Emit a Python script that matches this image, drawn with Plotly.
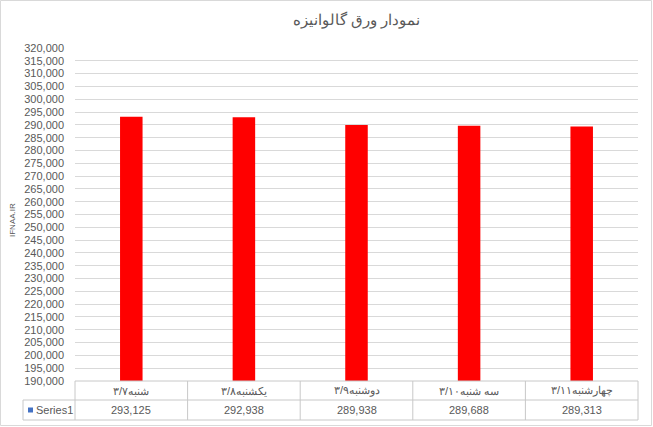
import plotly.graph_objects as go

categories = ["شنبه۳/۷", "یکشنبه۳/۸", "دوشنبه۳/۹", "سه شنبه۳/۱۰", "چهارشنبه۳/۱۱"]
values = [293125, 292938, 289938, 289688, 289313]
series_name = "Series1"
title_text = "نمودار ورق گالوانیزه"
y_title = "IFNAA.IR"

W, H = 653, 427
L, R, T, B = 75, 15, 48, 46
pw, ph = W - L - R, H - T - B

def px(x):
    return (x - L) / pw

def py(y):
    return (H - B - y) / ph

font = "Liberation Sans, Arial, sans-serif"
grey = "#595959"
line_c = "#c8c8c8"

fig = go.Figure(go.Bar(x=list(range(len(categories))), y=values, width=0.2,
                       marker=dict(color="#FF0000", line=dict(width=0)),
                       name=series_name, showlegend=False))

shapes = []
# outer border
shapes.append(dict(type="rect", xref="paper", yref="paper", x0=px(0.5), x1=px(W - 1.5),
                   y0=py(0.5), y1=py(H - 1.5), line=dict(color="#d9d9d9", width=1)))
# table
y_top, y_mid, y_bot = 381, 400, 420
x_left = 23
n = len(categories)
shapes.append(dict(type="line", xref="paper", yref="paper", x0=0, x1=1, y0=py(y_top), y1=py(y_top), line=dict(color=line_c, width=1)))
for yy in (y_mid, y_bot):
    shapes.append(dict(type="line", xref="paper", yref="paper", x0=px(x_left), x1=1, y0=py(yy), y1=py(yy), line=dict(color=line_c, width=1)))
shapes.append(dict(type="line", xref="paper", yref="paper", x0=px(x_left), x1=px(x_left), y0=py(y_mid), y1=py(y_bot), line=dict(color=line_c, width=1)))
for k in range(n + 1):
    xx = k / n
    shapes.append(dict(type="line", xref="paper", yref="paper", x0=xx, x1=xx, y0=py(y_top), y1=py(y_bot), line=dict(color=line_c, width=1)))
# legend key
shapes.append(dict(type="rect", xref="paper", yref="paper", x0=px(28), x1=px(33), y0=py(407.5), y1=py(412.5),
                   fillcolor="#4472C4", line=dict(width=0)))

annotations = []
for i, (c, v) in enumerate(zip(categories, values)):
    annotations.append(dict(x=i, xref="x", y=py((y_top + y_mid) / 2), yref="paper", text=c, showarrow=False,
                            font=dict(size=11, color=grey, family=font), xanchor="center", yanchor="middle"))
    annotations.append(dict(x=i, xref="x", y=py((y_mid + y_bot) / 2), yref="paper", text=f"{v:,}", showarrow=False,
                            font=dict(size=11, color=grey, family=font), xanchor="center", yanchor="middle"))
annotations.append(dict(x=px(34), xref="paper", y=py((y_mid + y_bot) / 2), yref="paper", text=series_name, showarrow=False,
                        font=dict(size=11, color=grey, family=font), xanchor="left", yanchor="middle"))
annotations.append(dict(x=px(12), xref="paper", y=py(220), yref="paper", text=y_title, showarrow=False, textangle=-90,
                        font=dict(size=8, color=grey, family=font), xanchor="center", yanchor="middle"))

fig.update_layout(
    width=W, height=H,
    margin=dict(l=L, r=R, t=T, b=B),
    paper_bgcolor="white", plot_bgcolor="white",
    title=dict(text=title_text, x=0.5, xref="paper", y=1 - 20 / H, yanchor="middle",
               font=dict(size=15, color=grey, family=font)),
    xaxis=dict(range=[-0.5, n - 0.5], showticklabels=False, showgrid=False, zeroline=False, ticks=""),
    yaxis=dict(range=[190000, 320000], dtick=5000, tick0=190000, tickformat=",", showgrid=True,
               gridcolor="#d9d9d9", gridwidth=1, zeroline=False, ticks="", ticklabelstandoff=10,
               tickfont=dict(size=11, color=grey, family=font)),
    shapes=shapes, annotations=annotations,
    bargap=0.8,
)

fig.write_html("out.html", config={"displayModeBar": False},
               post_script="document.body.style.margin='0';document.body.style.overflow='hidden';")
